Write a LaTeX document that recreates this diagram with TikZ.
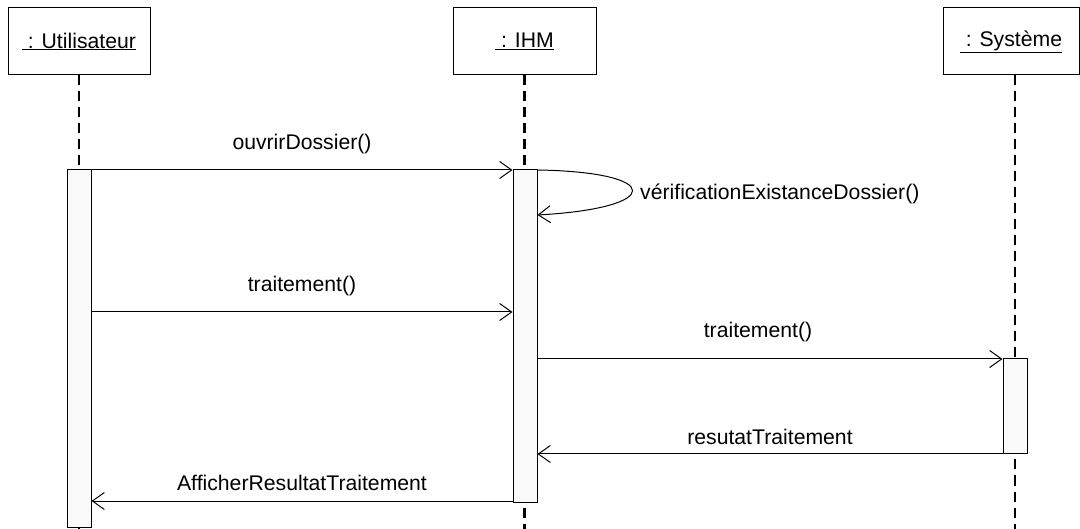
\documentclass[tikz,border=0pt]{standalone}
\usepackage{fontspec}
\setmainfont{Liberation Sans}
\usetikzlibrary{arrows.meta}
\begin{document}
\begin{tikzpicture}[x=1pt,y=-1pt,
  obj/.style={draw,line width=1pt,minimum height=67pt,inner sep=0pt,font=\fontsize{21.2}{24}\selectfont},
  life/.style={line width=2.8pt,dash pattern=on 10pt off 6pt},
  act/.style={draw,line width=1pt,fill=black!2,minimum width=24pt,inner sep=0pt},
  msg/.style={line width=1pt,-{Straight Barb[length=12pt,width=17pt,line width=1pt]}},
  lbl/.style={font=\fontsize{21.2}{24}\selectfont,inner sep=0pt}]
\useasboundingbox (0,0) rectangle (1080,529);
% objects
\node[obj,minimum width=142pt] (U) at (79,41.5) {\raisebox{-2.5pt}{\underline{\ : Utilisateur}}};
\node[obj,minimum width=143pt] (I) at (524.5,41.5) {\raisebox{-2.5pt}{\underline{\ : IHM}}};
\node[obj,minimum width=136pt] (S) at (1011,41.5) {\raisebox{-2.5pt}{\underline{\ : Système}}};
% lifelines
\coordinate (Ue) at (79,529);
\coordinate (Ie) at (524.5,529);
\coordinate (Se) at (1015,529);
\draw[life] (U.south) -- (Ue);
\draw[life] (I.south) -- (Ie);
\draw[life] (S.south -| Se) -- (Se);
% activations
\node[act,minimum height=357pt] (aU) at (79,348.5) {};
\node[act,minimum height=332pt] (aI) at (525,336) {};
\node[act,minimum height=95pt] (aS) at (1015,406.5) {};
% messages
\draw[msg] (aU.east |- 0,170) -- node[lbl,above=16pt]{ouvrirDossier()} (aI.west |- 0,170);
\draw[msg] (aI.east |- 0,170) .. controls (664,172) and (664,208) .. (aI.east |- 0,215);
\node[lbl,anchor=west] (selfl) at (640,194) {vérificationExistanceDossier()};
\draw[msg] (aU.east |- 0,312) -- node[lbl,above=16pt]{traitement()} (aI.west |- 0,312);
\draw[msg] (aI.east |- 0,359) -- node[lbl,above=17pt,xshift=-12pt]{traitement()} (aS.west |- 0,359);
\draw[msg] (aS.west |- 0,454) -- node[lbl,above=9pt]{resutatTraitement} (aI.east |- 0,454);
\draw[msg] (aI.west |- 0,501) -- node[lbl,above=10pt]{AfficherResultatTraitement} (aU.east |- 0,501);
\end{tikzpicture}
\end{document}
